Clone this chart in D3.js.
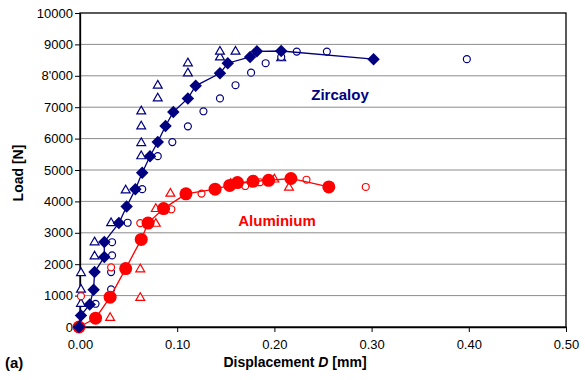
<!DOCTYPE html>
<html>
<head>
<meta charset="utf-8">
<script src="https://cdn.jsdelivr.net/npm/d3@7"></script>
<style>
  body { margin: 0; background: #fff; }
  svg { font-family: "Liberation Sans", Arial, sans-serif; }
</style>
</head>
<body>
<div class="chart"></div>
<script>
// values: [displacement mm, load N]
const zircMean = [[-0.001,0],[0.001,370],[0.010,720],[0.014,1190],[0.015,1750],[0.025,2230],[0.025,2710],[0.040,3310],[0.048,3840],[0.057,4390],[0.064,4910],[0.072,5440],[0.080,5890],[0.088,6400],[0.096,6850],[0.111,7280],[0.119,7680],[0.144,8080],[0.152,8400],[0.175,8600],[0.182,8780],[0.207,8790],[0.302,8530]];
const zircTri = [[0.001,740],[0.001,1190],[0.001,1720],[0.015,2250],[0.015,2700],[0.032,3310],[0.047,4350],[0.063,5440],[0.063,5860],[0.063,6390],[0.063,6870],[0.080,7280],[0.080,7690],[0.111,8080],[0.111,8400],[0.144,8590],[0.144,8770],[0.160,8770],[0.207,8560]];
const zircCirc = [[0.016,740],[0.032,1200],[0.032,1750],[0.033,2280],[0.033,2700],[0.049,3320],[0.064,4390],[0.080,5440],[0.095,5890],[0.111,6390],[0.127,6870],[0.144,7280],[0.160,7700],[0.176,8100],[0.191,8400],[0.207,8600],[0.223,8770],[0.254,8770],[0.398,8530]];

const aluMean = [[-0.001,0],[0.016,280],[0.031,950],[0.047,1860],[0.063,2790],[0.070,3310],[0.086,3770],[0.109,4240],[0.139,4390],[0.154,4510],[0.162,4600],[0.178,4640],[0.194,4670],[0.217,4730],[0.256,4460]];
const aluTri = [[0.031,290],[0.062,930],[0.062,1840],[0.078,3290],[0.078,3760],[0.093,4250],[0.155,4560],[0.200,4700],[0.215,4440]];
const aluCirc = [[0.001,980],[0.032,1900],[0.062,3310],[0.094,3750],[0.125,4250],[0.170,4490],[0.185,4610],[0.233,4690],[0.294,4460]];

const xTicks = [0, 0.1, 0.2, 0.3, 0.4, 0.5];
const yTicks = [0,1000,2000,3000,4000,5000,6000,7000,8000,9000,10000];
const yTickLabels = ['0','1000','2000','3000','4000','5000','6000','7000',"8'000",'9000','10000'];

const navy = '#000080';
const red = '#ff0000';

const margin = ({top: 13, right: 19, bottom: 53, left: 80});
const width = 585 - margin.left - margin.right;
const height = 380 - margin.top - margin.bottom;

const svg = d3.select('.chart')
  .append('svg')
  .attr('width', 585)
  .attr('height', 380)
  .append('g')
  .attr('transform', 'translate(' + margin.left + ',' + margin.top + ')');

const xScale = d3.scaleLinear().domain([0, 0.5]).range([0, width]);
const yScale = d3.scaleLinear().domain([0, 10000]).range([height, 0]);

// grid
svg.selectAll('.grid')
  .data(yTicks.slice(1, -1))
  .enter()
  .append('line')
  .attr('x1', 0).attr('x2', width)
  .attr('y1', d => yScale(d)).attr('y2', d => yScale(d))
  .attr('stroke', '#8c8c8c')
  .attr('stroke-width', 1);

// box
svg.append('rect')
  .attr('width', width).attr('height', height)
  .attr('fill', 'none').attr('stroke', '#000').attr('stroke-width', 1.3);

const xAxis = d3.axisBottom(xScale)
  .tickValues(xTicks)
  .tickFormat(d3.format('.2f'))
  .tickSize(5).tickSizeOuter(0);

const yAxis = d3.axisLeft(yScale)
  .tickValues(yTicks)
  .tickFormat((d, i) => yTickLabels[i])
  .tickSize(5).tickSizeOuter(0);

const gx = svg.append('g')
  .attr('class', 'axis x-axis')
  .attr('transform', `translate(0, ${height})`)
  .call(xAxis);
gx.select('.domain').attr('stroke-width', 1.3);
gx.selectAll('text').attr('font-size', 13).attr('fill', '#000').attr('dy', '1.05em').attr('font-family', '"Liberation Sans", Arial, sans-serif');

const gy = svg.append('g')
  .attr('class', 'axis y-axis')
  .call(yAxis);
gy.select('.domain').attr('stroke-width', 1.3);
gy.selectAll('text').attr('font-size', 13).attr('fill', '#000').attr('x', -7).attr('font-family', '"Liberation Sans", Arial, sans-serif');

const plot = svg.append('g');

function openSymbols(data, type, size, color) {
  plot.selectAll()
    .data(data)
    .enter()
    .append('path')
    .attr('d', d3.symbol().type(type).size(size))
    .attr('transform', d => `translate(${xScale(d[0])},${yScale(d[1])})`)
    .attr('fill', 'white')
    .attr('stroke', color)
    .attr('stroke-width', 1.2);
}

openSymbols(zircTri, d3.symbolTriangle, 34, navy);
openSymbols(zircCirc, d3.symbolCircle, 38, navy);
openSymbols(aluTri, d3.symbolTriangle, 34, red);
openSymbols(aluCirc, d3.symbolCircle, 38, red);

const line = d3.line().x(d => xScale(d[0])).y(d => yScale(d[1]));

plot.append('path')
  .datum(aluMean)
  .attr('d', line)
  .attr('fill', 'none')
  .attr('stroke', red)
  .attr('stroke-width', 1.3);

plot.selectAll()
  .data(aluMean)
  .enter()
  .append('circle')
  .attr('cx', d => xScale(d[0]))
  .attr('cy', d => yScale(d[1]))
  .attr('r', 6.5)
  .attr('fill', red);

plot.append('path')
  .datum(zircMean)
  .attr('d', line)
  .attr('fill', 'none')
  .attr('stroke', navy)
  .attr('stroke-width', 1.3);

plot.selectAll()
  .data(zircMean)
  .enter()
  .append('path')
  .attr('d', d3.symbol().type(d3.symbolSquare).size(78))
  .attr('transform', d => `translate(${xScale(d[0])},${yScale(d[1])}) rotate(45)`)
  .attr('fill', navy);

// labels
svg.append('text')
  .attr('x', 260).attr('y', 87)
  .attr('text-anchor', 'middle')
  .attr('font-size', 15).attr('font-weight', 'bold')
  .attr('fill', navy)
  .text('Zircaloy');

svg.append('text')
  .attr('x', 197).attr('y', 213)
  .attr('text-anchor', 'middle')
  .attr('font-size', 15).attr('font-weight', 'bold')
  .attr('fill', red)
  .text('Aluminium');

const xl = svg.append('text')
  .attr('x', 215).attr('y', height + 40)
  .attr('text-anchor', 'middle')
  .attr('font-size', 14).attr('font-weight', 'bold');
xl.append('tspan').text('Displacement ');
xl.append('tspan').attr('font-style', 'italic').text('D');
xl.append('tspan').text(' [mm]');

svg.append('text')
  .attr('transform', `translate(-57, ${height / 2 + 3}) rotate(-90)`)
  .attr('text-anchor', 'middle')
  .attr('font-size', 14).attr('font-weight', 'bold')
  .text('Load [N]');

svg.append('text')
  .attr('x', -75).attr('y', height + 41)
  .attr('font-size', 15).attr('font-weight', 'bold')
  .text('(a)');
</script>
</body>
</html>
